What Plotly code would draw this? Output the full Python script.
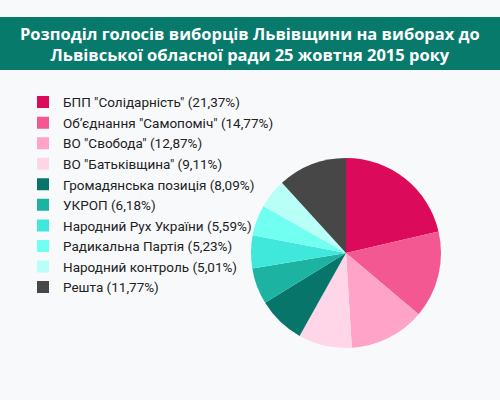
import plotly.graph_objects as go

parties = [
    'БПП "Солідарність"',
    'Об’єднання "Самопоміч"',
    'ВО "Свобода"',
    'ВО "Батьківщина"',
    'Громадянська позиція',
    'УКРОП',
    'Народний Рух України',
    'Радикальна Партія',
    'Народний контроль',
    'Решта',
]
shares = [21.37, 14.77, 12.87, 9.11, 8.09, 6.18, 5.59, 5.23, 5.01, 11.77]
colors = ['#dc0a5a', '#f45893', '#ffa3c8', '#ffd6e8', '#07756a',
          '#1cb3a2', '#40e8dc', '#70fff0', '#b8fff8', '#474747']

labels = [f'{p} ({str(s).replace(".", ",")}%)' for p, s in zip(parties, shares)]

title = ('<b>Розподіл голосів виборців Львівщини на виборах до<br>'
         'Львівської обласної ради 25 жовтня 2015 року</b>')

fig = go.Figure()

fig.add_trace(
    go.Pie(
        labels=labels,
        values=shares,
        sort=False,
        direction='clockwise',
        rotation=0,
        textinfo='none',
        marker=dict(colors=colors, line=dict(width=0)),
        domain=dict(x=[0.502, 0.882], y=[0.13, 0.605]),
        hovertemplate='%{label}<extra></extra>',
    )
)

# banner behind the title
fig.add_shape(type='rect', xref='paper', yref='paper',
              x0=0, x1=1, y0=0.825, y1=0.9575,
              fillcolor='#087a6c', line=dict(width=0), layer='below')

fig.add_annotation(text=title, xref='paper', yref='paper',
                   x=0.5, y=0.891, showarrow=False,
                   xanchor='center', yanchor='middle',
                   font=dict(family='Open Sans', size=16.5, color='white'))

fig.update_layout(
    width=500,
    height=400,
    margin=dict(l=0, r=0, t=0, b=0),
    paper_bgcolor='#f8f9fb',
    plot_bgcolor='#f8f9fb',
    font=dict(family='Roboto', color='#222222'),
    showlegend=True,
    legend=dict(
        x=0.046, y=0.783, xanchor='left', yanchor='top',
        font=dict(family='Roboto', size=13.5, color='#222222'),
        bgcolor='rgba(0,0,0,0)',
    ),
)

fig.write_html("out.html", config={'displayModeBar': False},
               post_script="document.body.style.margin='0';")
